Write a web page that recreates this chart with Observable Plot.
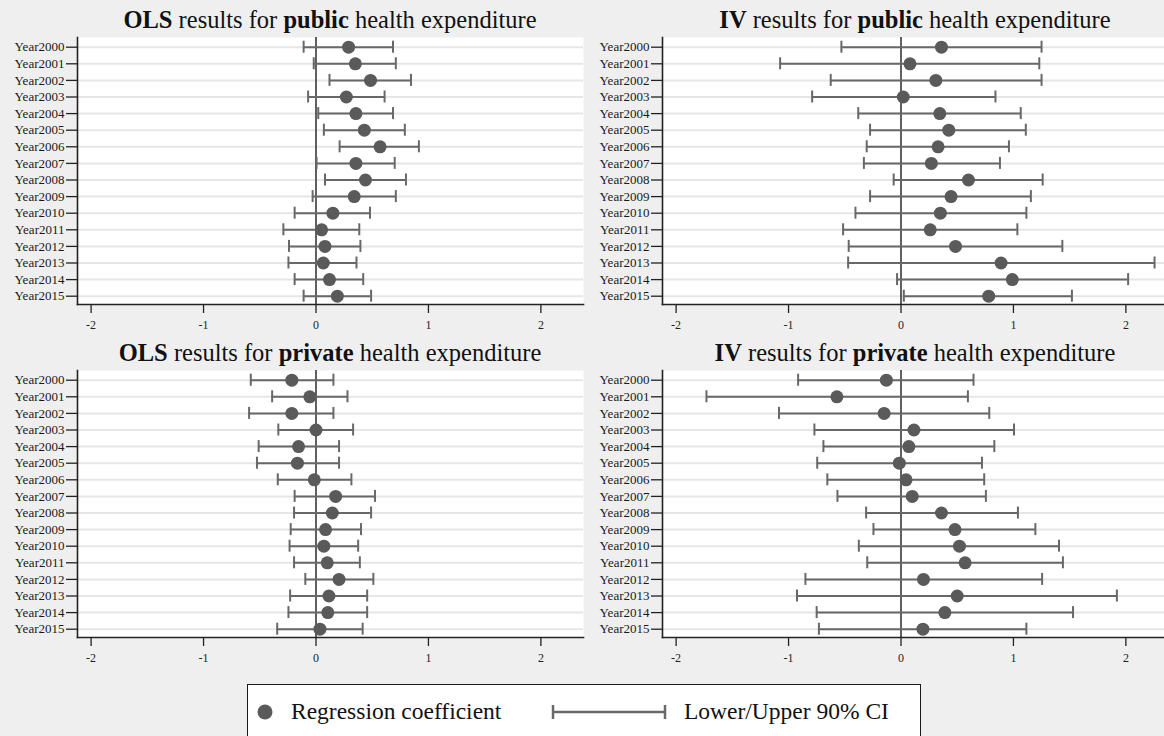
<!DOCTYPE html>
<html>
<head>
<meta charset="utf-8">
<script src="https://cdn.jsdelivr.net/npm/d3@7"></script>
<script src="https://cdn.jsdelivr.net/npm/@observablehq/plot@0.6"></script>
<style>
  html, body { margin: 0; padding: 0; }
  body { width: 1164px; height: 736px; overflow: hidden; position: relative; background: #efefef; font-family: "Liberation Serif", "DejaVu Serif", serif; }
  .panel { position: absolute; width: 585px; height: 334px; }
  .title { position: absolute; left: 77px; width: 506px; top: 5px; text-align: center; font-size: 24.5px; line-height: 30px; color: #111; white-space: nowrap; }
  .title b { font-weight: bold; }
  #legend { position: absolute; left: 247px; top: 684px; width: 674px; height: 70px; box-sizing: border-box; border: 1.5px solid #1a1a1a; background: #fff; }
  #legend span { position: absolute; top: 11px; font-size: 23.5px; line-height: 30px; color: #111; white-space: nowrap; }
  #legend svg { position: absolute; top: 0; left: 0; }
</style>
</head>
<body>
<script>
const years = ["Year2000","Year2001","Year2002","Year2003","Year2004","Year2005","Year2006","Year2007",
               "Year2008","Year2009","Year2010","Year2011","Year2012","Year2013","Year2014","Year2015"];
const xTicks = [-2, -1, 0, 1, 2];

// OLS, public health expenditure
const olsPubCoef  = [0.29, 0.35, 0.485, 0.27, 0.355, 0.43, 0.57, 0.355, 0.44, 0.34, 0.15, 0.05, 0.08, 0.065, 0.12, 0.19];
const olsPubLower = [-0.11, -0.02, 0.12, -0.07, 0.02, 0.07, 0.21, 0.005, 0.08, -0.03, -0.19, -0.29, -0.24, -0.245, -0.19, -0.11];
const olsPubUpper = [0.685, 0.71, 0.845, 0.61, 0.685, 0.79, 0.915, 0.70, 0.80, 0.71, 0.48, 0.385, 0.395, 0.36, 0.42, 0.49];

// IV, public health expenditure
const ivPubCoef  = [0.36, 0.08, 0.31, 0.02, 0.345, 0.425, 0.33, 0.27, 0.60, 0.445, 0.35, 0.26, 0.485, 0.89, 0.99, 0.78];
const ivPubLower = [-0.53, -1.075, -0.625, -0.79, -0.38, -0.275, -0.305, -0.33, -0.065, -0.275, -0.405, -0.515, -0.465, -0.47, -0.035, 0.025];
const ivPubUpper = [1.25, 1.23, 1.25, 0.84, 1.065, 1.11, 0.96, 0.88, 1.26, 1.155, 1.115, 1.035, 1.435, 2.255, 2.02, 1.52];

// OLS, private health expenditure
const olsPrivCoef  = [-0.215, -0.055, -0.215, 0.0, -0.155, -0.165, -0.015, 0.175, 0.145, 0.085, 0.07, 0.10, 0.205, 0.115, 0.105, 0.035];
const olsPrivLower = [-0.58, -0.39, -0.595, -0.335, -0.51, -0.525, -0.34, -0.19, -0.195, -0.225, -0.235, -0.195, -0.095, -0.23, -0.245, -0.345];
const olsPrivUpper = [0.155, 0.28, 0.155, 0.33, 0.205, 0.205, 0.315, 0.525, 0.49, 0.40, 0.375, 0.39, 0.51, 0.455, 0.455, 0.415];

// IV, private health expenditure
const ivPrivCoef  = [-0.13, -0.57, -0.15, 0.115, 0.07, -0.015, 0.045, 0.10, 0.36, 0.48, 0.52, 0.57, 0.20, 0.50, 0.39, 0.195];
const ivPrivLower = [-0.915, -1.73, -1.085, -0.77, -0.69, -0.745, -0.655, -0.565, -0.31, -0.245, -0.375, -0.30, -0.85, -0.925, -0.75, -0.73];
const ivPrivUpper = [0.645, 0.595, 0.785, 1.005, 0.83, 0.72, 0.74, 0.755, 1.04, 1.195, 1.405, 1.44, 1.255, 1.92, 1.53, 1.115];

const panels = [
  {left: 0,   top: 0,   title: "<b>OLS</b> results for <b>public</b> health expenditure",  b: olsPubCoef,  lo: olsPubLower,  hi: olsPubUpper},
  {left: 585, top: 0,   title: "<b>IV</b> results for <b>public</b> health expenditure",   b: ivPubCoef,   lo: ivPubLower,   hi: ivPubUpper},
  {left: 0,   top: 333, title: "<b>OLS</b> results for <b>private</b> health expenditure", b: olsPrivCoef, lo: olsPrivLower, hi: olsPrivUpper},
  {left: 585, top: 333, title: "<b>IV</b> results for <b>private</b> health expenditure",  b: ivPrivCoef,  lo: ivPrivLower,  hi: ivPrivUpper}
];

const barColor = "#686868";
const dotColor = "#5a5a5a";

for (const p of panels) {
  const data = years.map((year, i) => ({year, b: p.b[i], lo: p.lo[i], hi: p.hi[i]}));
  const div = document.createElement("div");
  div.className = "panel";
  div.style.left = p.left + "px";
  div.style.top = p.top + "px";
  const chart = Plot.plot({
    width: 585,
    height: 334,
    marginTop: 37,
    marginBottom: 30,
    marginLeft: 77,
    marginRight: 2,
    style: {background: "transparent", fontFamily: "'Liberation Serif', 'DejaVu Serif', serif", color: "#222", overflow: "visible"},
    x: {domain: [-2.121, 2.379], label: null},
    y: {type: "band", domain: years, padding: 0, round: false, insetTop: 1.4, label: null},
    marks: [
      Plot.frame({fill: "#ffffff", stroke: null}),
      Plot.gridY({stroke: "#e6e6e6", strokeOpacity: 1, strokeWidth: 2}),
      Plot.ruleX([0], {stroke: "#3a3a3a", strokeWidth: 1.6}),
      Plot.ruleY(data, {y: "year", x1: "lo", x2: "hi", stroke: barColor, strokeWidth: 2}),
      Plot.tickX(data, {x: "lo", y: "year", stroke: barColor, strokeWidth: 2, insetTop: 2.3, insetBottom: 2.3}),
      Plot.tickX(data, {x: "hi", y: "year", stroke: barColor, strokeWidth: 2, insetTop: 2.3, insetBottom: 2.3}),
      Plot.dot(data, {x: "b", y: "year", r: 6.5, fill: dotColor, stroke: null}),
      Plot.frame({anchor: "left", stroke: "#222", strokeWidth: 1.6}),
      Plot.frame({anchor: "bottom", stroke: "#222", strokeWidth: 1.6}),
      Plot.axisY({tickSize: 11, tickPadding: 2, fontSize: 13, stroke: "#222", strokeWidth: 1.3, fill: "#1a1a1a"}),
      Plot.axisX({ticks: xTicks, tickSize: 9, tickPadding: 7, fontSize: 12, tickFormat: d => String(d), stroke: "#222", strokeWidth: 1.3, fill: "#222", label: null})
    ]
  });
  div.appendChild(chart);
  const t = document.createElement("div");
  t.className = "title";
  t.innerHTML = p.title;
  div.appendChild(t);
  document.body.appendChild(div);
}

// Legend
const legend = document.createElement("div");
legend.id = "legend";
legend.innerHTML = `
  <svg width="674" height="70">
    <circle cx="17" cy="27" r="7.5" fill="${dotColor}"></circle>
    <line x1="304" x2="418" y1="27" y2="27" stroke="${barColor}" stroke-width="2.5"></line>
    <line x1="305" x2="305" y1="20" y2="34" stroke="${barColor}" stroke-width="2.5"></line>
    <line x1="417" x2="417" y1="20" y2="34" stroke="${barColor}" stroke-width="2.5"></line>
  </svg>
  <span style="left:43px">Regression coefficient</span>
  <span style="left:436px">Lower/Upper 90% CI</span>`;
document.body.appendChild(legend);
</script>
</body>
</html>
